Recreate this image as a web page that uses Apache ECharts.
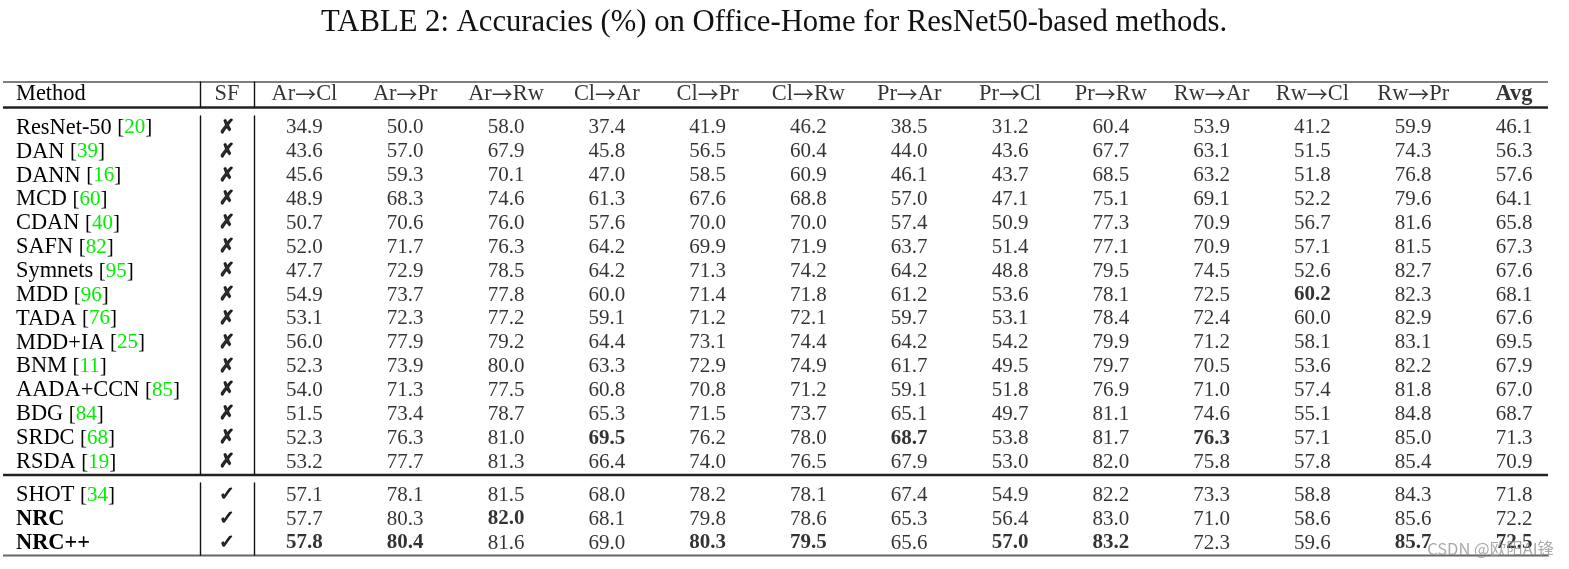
<!DOCTYPE html>
<html>
<head>
<meta charset="utf-8">
<title>Office-Home ResNet50</title>
<script src="https://cdn.jsdelivr.net/npm/echarts@6/dist/echarts.min.js"></script>
<style>
html, body { margin: 0; padding: 0; background: #fff; }
#main { width: 1569px; height: 569px; }
</style>
</head>
<body>
<div id="main"></div>
<script>
// column titles
var columns = ['Ar→Cl', 'Ar→Pr', 'Ar→Rw', 'Cl→Ar', 'Cl→Pr', 'Cl→Rw', 'Pr→Ar', 'Pr→Cl', 'Pr→Rw', 'Rw→Ar', 'Rw→Cl', 'Rw→Pr', 'Avg'];

// upper block (not source free)
var topMethods = ['ResNet-50', 'DAN', 'DANN', 'MCD', 'CDAN', 'SAFN', 'Symnets', 'MDD', 'TADA', 'MDD+IA', 'BNM', 'AADA+CCN', 'BDG', 'SRDC', 'RSDA'];
var topCites = ['20', '39', '16', '60', '40', '82', '95', '96', '76', '25', '11', '85', '84', '68', '19'];
var topSF = [0, 0, 0, 0, 0, 0, 0, 0, 0, 0, 0, 0, 0, 0, 0];
var topValues = [
  [34.9, 50.0, 58.0, 37.4, 41.9, 46.2, 38.5, 31.2, 60.4, 53.9, 41.2, 59.9, 46.1],
  [43.6, 57.0, 67.9, 45.8, 56.5, 60.4, 44.0, 43.6, 67.7, 63.1, 51.5, 74.3, 56.3],
  [45.6, 59.3, 70.1, 47.0, 58.5, 60.9, 46.1, 43.7, 68.5, 63.2, 51.8, 76.8, 57.6],
  [48.9, 68.3, 74.6, 61.3, 67.6, 68.8, 57.0, 47.1, 75.1, 69.1, 52.2, 79.6, 64.1],
  [50.7, 70.6, 76.0, 57.6, 70.0, 70.0, 57.4, 50.9, 77.3, 70.9, 56.7, 81.6, 65.8],
  [52.0, 71.7, 76.3, 64.2, 69.9, 71.9, 63.7, 51.4, 77.1, 70.9, 57.1, 81.5, 67.3],
  [47.7, 72.9, 78.5, 64.2, 71.3, 74.2, 64.2, 48.8, 79.5, 74.5, 52.6, 82.7, 67.6],
  [54.9, 73.7, 77.8, 60.0, 71.4, 71.8, 61.2, 53.6, 78.1, 72.5, 60.2, 82.3, 68.1],
  [53.1, 72.3, 77.2, 59.1, 71.2, 72.1, 59.7, 53.1, 78.4, 72.4, 60.0, 82.9, 67.6],
  [56.0, 77.9, 79.2, 64.4, 73.1, 74.4, 64.2, 54.2, 79.9, 71.2, 58.1, 83.1, 69.5],
  [52.3, 73.9, 80.0, 63.3, 72.9, 74.9, 61.7, 49.5, 79.7, 70.5, 53.6, 82.2, 67.9],
  [54.0, 71.3, 77.5, 60.8, 70.8, 71.2, 59.1, 51.8, 76.9, 71.0, 57.4, 81.8, 67.0],
  [51.5, 73.4, 78.7, 65.3, 71.5, 73.7, 65.1, 49.7, 81.1, 74.6, 55.1, 84.8, 68.7],
  [52.3, 76.3, 81.0, 69.5, 76.2, 78.0, 68.7, 53.8, 81.7, 76.3, 57.1, 85.0, 71.3],
  [53.2, 77.7, 81.3, 66.4, 74.0, 76.5, 67.9, 53.0, 82.0, 75.8, 57.8, 85.4, 70.9]
];
var topBold = [[7, 10], [13, 3], [13, 6], [13, 9]]; // [row, col]

// lower block (source free)
var bottomMethods = ['SHOT', 'NRC', 'NRC++'];
var bottomCites = ['34', '', ''];
var bottomSF = [1, 1, 1];
var bottomValues = [
  [57.1, 78.1, 81.5, 68.0, 78.2, 78.1, 67.4, 54.9, 82.2, 73.3, 58.8, 84.3, 71.8],
  [57.7, 80.3, 82.0, 68.1, 79.8, 78.6, 65.3, 56.4, 83.0, 71.0, 58.6, 85.6, 72.2],
  [57.8, 80.4, 81.6, 69.0, 80.3, 79.5, 65.6, 57.0, 83.2, 72.3, 59.6, 85.7, 72.5]
];
var bottomBold = [[1, 2], [2, 0], [2, 1], [2, 4], [2, 5], [2, 7], [2, 8], [2, 11], [2, 12]];
var boldNames = ['NRC', 'NRC++'];

var serif = 'Liberation Serif';
var fs = 21;   // numbers
var fsText = 22.4; // words (Palatino is wider than Times)
var sfLeft = 200;
var numLeft = 254;
var colW = 100.8;
var lineCol = '#111';

function isBold(list, i, j) {
  for (var k = 0; k < list.length; k++) {
    if (list[k][0] == i && list[k][1] == j) return true;
  }
  return false;
}

// method column text with green citation
function methodLabel(names, cites) {
  return function(v, idx) {
    if (boldNames.indexOf(v) != -1) return '{nb|' + v + '}';
    var c = cites[names.indexOf(v)];
    if (!c) return '{n|' + v + '}';
    return '{n|' + v + ' }{k|[}{g|' + c + '}{k|]}';
  };
}

var rich = {
  n: { fontFamily: serif, fontSize: fsText, color: '#000' },
  nb: { fontFamily: serif, fontSize: fsText, color: '#000', fontWeight: 'bold' },
  k: { fontFamily: serif, fontSize: fs, color: '#000' },
  g: { fontFamily: serif, fontSize: fs, color: '#00ee00' }
};

// header text: long thin arrow
var headRich = {
  t: { fontFamily: serif, fontSize: fsText, color: '#000' },
  tb: { fontFamily: serif, fontSize: fsText, color: '#000', fontWeight: 'bold' },
  a: { fontFamily: 'Noto Sans CJK SC', fontSize: 21, color: '#000' }
};

function headLabel(p) {
  var s = columns[p.value[0]];
  if (s == 'Avg') return '{tb|' + s + '}';
  var parts = s.split('→');
  return '{t|' + parts[0] + '}{a|→}{t|' + parts[1] + '}';
}

function xAxisOf(grid, data) {
  return {
    type: 'category', gridIndex: grid, data: data,
    axisLine: { show: false }, axisTick: { show: false },
    axisLabel: { show: false }, splitLine: { show: false }
  };
}

function yAxisOf(grid, data, label) {
  return {
    type: 'category', gridIndex: grid, data: data, inverse: true,
    axisLine: { show: true, lineStyle: { color: lineCol, width: 1.4 } },
    axisTick: { show: false }, splitLine: { show: false },
    axisLabel: label || { show: false }
  };
}

function cellSeries(x, y, data, formatter, family, extra) {
  var label = {
    show: true, position: 'inside', color: '#000',
    fontFamily: family || serif, fontSize: fs,
    formatter: formatter
  };
  for (var key in (extra || {})) label[key] = extra[key];
  return {
    type: 'scatter', xAxisIndex: x, yAxisIndex: y,
    symbolSize: 1, silent: true,
    itemStyle: { color: 'rgba(0,0,0,0)' },
    label: label,
    data: data
  };
}

function numData(values, bold) {
  var out = [];
  for (var i = 0; i < values.length; i++) {
    for (var j = 0; j < values[i].length; j++) {
      var item = { value: [j, i, values[i][j]] };
      if (isBold(bold, i, j)) item.label = { fontWeight: 'bold' };
      out.push(item);
    }
  }
  return out;
}

function sfData(flags) {
  var out = [];
  for (var i = 0; i < flags.length; i++) out.push([0, i, flags[i]]);
  return out;
}

var headData = [];
for (var j = 0; j < columns.length; j++) {
  headData.push([j, 0]);
}

var numFmt = function(p) { return p.value[2].toFixed(1); };
var sfFmt = function(p) { return p.value[2] ? '✓' : '✗'; };
// ding marks are heavier than DejaVu's, thicken with a stroke
var markStyle = { fontSize: 19, textBorderColor: '#000', textBorderWidth: 1.1 };

var methodAxisLabel = function(names, cites) {
  return {
    show: true, align: 'left', margin: sfLeft - 16, interval: 0,
    formatter: methodLabel(names, cites), rich: rich
  };
};

var option = {
  animation: false,
  backgroundColor: '#fff',
  title: {
    text: 'TABLE 2: Accuracies (%) on Office-Home for ResNet50-based methods.',
    left: 316, top: 2,
    textStyle: { fontFamily: serif, fontSize: 30.7, fontWeight: 'normal', color: '#111' }
  },
  grid: [
    { left: sfLeft, top: 82, width: numLeft - sfLeft, height: 25 },
    { left: numLeft, top: 82, width: colW * columns.length, height: 25 },
    { left: sfLeft, top: 116, width: numLeft - sfLeft, height: 358 },
    { left: numLeft, top: 116, width: colW * columns.length, height: 358 },
    { left: sfLeft, top: 483, width: numLeft - sfLeft, height: 72 },
    { left: numLeft, top: 483, width: colW * columns.length, height: 72 }
  ],
  xAxis: [
    xAxisOf(0, ['SF']), xAxisOf(1, columns),
    xAxisOf(2, ['SF']), xAxisOf(3, columns),
    xAxisOf(4, ['SF']), xAxisOf(5, columns)
  ],
  yAxis: [
    yAxisOf(0, ['Method'], {
      show: true, align: 'left', margin: sfLeft - 16,
      fontFamily: serif, fontSize: fsText, color: '#000'
    }),
    yAxisOf(1, ['Method']),
    yAxisOf(2, topMethods, methodAxisLabel(topMethods, topCites)),
    yAxisOf(3, topMethods),
    yAxisOf(4, bottomMethods, methodAxisLabel(bottomMethods, bottomCites)),
    yAxisOf(5, bottomMethods)
  ],
  series: [
    cellSeries(0, 0, [[0, 0]], function() { return 'SF'; }, serif, { fontSize: fsText }),
    cellSeries(1, 1, headData, headLabel, serif, { rich: headRich }),
    cellSeries(2, 2, sfData(topSF), sfFmt, 'DejaVu Sans', markStyle),
    cellSeries(3, 3, numData(topValues, topBold), numFmt),
    cellSeries(4, 4, sfData(bottomSF), sfFmt, 'DejaVu Sans', markStyle),
    cellSeries(5, 5, numData(bottomValues, bottomBold), numFmt)
  ],
  // booktabs rules + watermark
  graphic: [
    { type: 'line', shape: { x1: 3, y1: 82, x2: 1548, y2: 82 }, style: { stroke: '#555', lineWidth: 1.5 } },
    { type: 'line', shape: { x1: 3, y1: 107.5, x2: 1548, y2: 107.5 }, style: { stroke: '#222', lineWidth: 2.5 } },
    { type: 'line', shape: { x1: 3, y1: 475, x2: 1548, y2: 475 }, style: { stroke: '#222', lineWidth: 2.5 } },
    { type: 'line', shape: { x1: 3, y1: 555.5, x2: 1548, y2: 555.5 }, style: { stroke: '#666', lineWidth: 1.8 } },
    {
      type: 'text', right: 15, top: 540, z: 100,
      style: { text: 'CSDN @欧阳AI锋', fill: 'rgba(140,140,140,0.75)', fontSize: 16.5, fontFamily: 'Noto Sans CJK SC' }
    }
  ]
};

var myChart = echarts.init(document.getElementById('main'));
myChart.setOption(option);
</script>
</body>
</html>
